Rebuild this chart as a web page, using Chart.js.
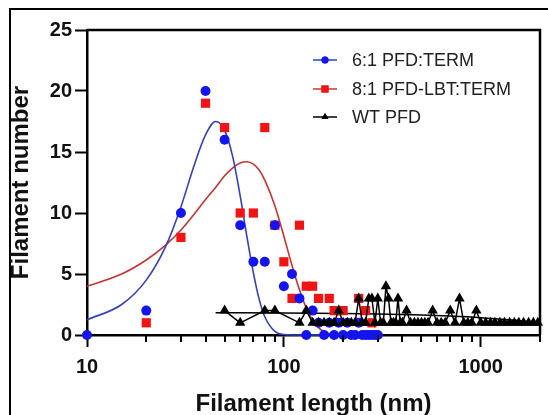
<!DOCTYPE html>
<html>
<head>
<meta charset="utf-8">
<style>
  html, body { margin: 0; padding: 0; background: #fff; }
  #wrap { width: 548px; height: 415px; position: relative; }
</style>
<script src="https://cdn.jsdelivr.net/npm/chart.js@4/dist/chart.umd.min.js"></script>
</head>
<body>
<div id="wrap"><canvas id="c" width="548" height="415"></canvas></div>
<script>
// Filament length histograms (10 nm bins) for the three samples
const blueLengths = [10,20,30,40,50,60,70,80,90,100,110,120,130,140,150,160,170,180,190,200,210,220,230,240,250,260,270,280,290,300];
const blueCounts  = [0,2,10,20,16,9,6,6,9,4,5,3,0,2,1,0,1,0,1,0,1,0,0,1,0,0,0,0,0,0];

const redLengths = [20,30,40,50,60,70,80,90,100,110,120,130,140,150,170,180,190,200,240,260,280];
const redCounts  = [1,8,19,17,10,10,17,9,6,3,9,4,4,3,3,2,2,2,3,2,1];

const wtLengths = [50,60,80,90,120,130,140,150,160,170,180,190,200,210,220,230,240,250,260,270,280,290,300,310,320,330,340,350,360,370,380,390,400,420,440,460,480,500,520,540,570,600,630,660,700,740,780,820,860,900,950,1000,1060,1120,1180,1250,1320,1400,1480,1560,1650,1750,1850,1950];
const wtCounts  = [2,1,2,2,1,2,1,1,1,1,1,2,1,1,1,1,3,1,1,3,3,1,3,1,1,4,3,1,1,1,3,1,1,2,1,1,1,1,1,1,2,1,1,1,2,1,3,1,1,1,2,1,1,1,1,1,1,1,1,1,1,1,1,1];

// Fitted distribution curves
const blueFitLengths = [10,15,20,25,30,35,40,45,50,55,60,65,70,75,80,90,100,120,150,200,300];
const blueFitCounts  = [1.25,2.5,4.5,7.2,10.5,13.9,16.4,17.5,16.8,14.6,11.4,8.0,5.1,2.9,1.5,0.3,0.04,0,0,0,0];
const redFitLengths = [10,15,20,25,30,35,40,45,50,55,60,65,70,75,80,90,100,110,120,130,140,150,160,180,200,300];
const redFitCounts  = [4.0,5.0,6.15,7.35,8.6,9.9,11.1,12.1,13.05,13.7,14.1,14.2,14.0,13.5,12.7,10.6,8.1,5.7,3.7,2.2,1.2,0.6,0.26,0.04,0,0];
const wtFitLengths = [45,100,200,300,500,700,1000,1500,2000];
const wtFitCounts  = [1.83,1.81,1.76,1.72,1.64,1.55,1.42,1.2,0.99];

// Axis ticks
const xTickValues = [10,20,30,40,50,60,70,80,90,100,200,300,400,500,600,700,800,900,1000,2000];
const xLabelled = [10,100,1000];
const yTickStep = 5;

const seriesNames = ['6:1 PFD:TERM', '8:1 PFD-LBT:TERM', 'WT PFD'];

const BLUE = '#1414ee', BLUE_FIT = '#3340c0';
const RED = '#f01414', RED_FIT = '#c83434';
const BLACK = '#000000';
const FONT = 'Arial, "Liberation Sans", sans-serif';

const pts = (xs, ys) => xs.map((x, i) => ({x: x, y: ys[i]}));

// Frame, plot box, minor x ticks and the inset legend
const decor = {
  id: 'decor',
  beforeDraw(chart) {
    const ctx = chart.ctx;
    ctx.save();
    ctx.fillStyle = '#fff';
    ctx.fillRect(0, 0, chart.width, chart.height);
    ctx.strokeStyle = '#000';
    ctx.lineWidth = 2;
    ctx.strokeRect(10, 9, chart.width + 20, chart.height + 20);
    ctx.restore();
  },
  afterDraw(chart) {
    const ctx = chart.ctx, a = chart.chartArea, xs = chart.scales.x;
    ctx.save();
    ctx.strokeStyle = '#000';
    ctx.lineWidth = 2.5;
    ctx.beginPath();
    ctx.moveTo(a.left, a.top);
    ctx.lineTo(a.right, a.top);
    ctx.lineTo(a.right, a.bottom);
    ctx.stroke();
    // shorter minor ticks
    ctx.lineWidth = 2;
    xTickValues.forEach(v => {
      if (xLabelled.includes(v)) return;
      const px = Math.round(xs.getPixelForValue(v));
      ctx.beginPath();
      ctx.moveTo(px, a.bottom);
      ctx.lineTo(px, a.bottom + 7);
      ctx.stroke();
    });
    // legend
    const ds = chart.data.datasets.filter(d => d.legendRow !== undefined);
    const lx0 = 313, lx1 = 337, tx = 352, rows = [60, 89, 117];
    ctx.font = '18px ' + FONT;
    ctx.textBaseline = 'middle';
    ds.forEach(d => {
      const y = rows[d.legendRow];
      ctx.strokeStyle = d.legendLine;
      ctx.lineWidth = 1.5;
      ctx.beginPath();
      ctx.moveTo(lx0, y);
      ctx.lineTo(lx1, y);
      ctx.stroke();
      ctx.fillStyle = d.pointBackgroundColor;
      Chart.helpers.drawPoint(ctx, {pointStyle: d.pointStyle, radius: d.legendRadius, borderWidth: 0}, (lx0 + lx1) / 2, y);
      ctx.fill();
      ctx.fillStyle = '#222';
      ctx.fillText(d.label, tx, y + 1);
    });
    ctx.restore();
  }
};

new Chart(document.getElementById('c'), {
  type: 'scatter',
  data: {
    datasets: [
      { label: seriesNames[2], data: pts(wtLengths, wtCounts), showLine: true, borderColor: BLACK, borderWidth: 1.5,
        pointStyle: 'triangle', pointRadius: 6, pointBackgroundColor: BLACK, pointBorderWidth: 0, order: 0,
        legendRow: 2, legendLine: BLACK, legendRadius: 4 },
      { label: seriesNames[0], data: pts(blueLengths, blueCounts), showLine: false,
        pointStyle: 'circle', pointRadius: 5, pointBackgroundColor: BLUE, pointBorderWidth: 0, order: 1,
        legendRow: 0, legendLine: BLUE_FIT, legendRadius: 3.5 },
      { label: seriesNames[1], data: pts(redLengths, redCounts), showLine: false,
        pointStyle: 'rect', pointRadius: 6.5, pointBackgroundColor: RED, pointBorderWidth: 0, order: 2,
        legendRow: 1, legendLine: RED_FIT, legendRadius: 5 },
      { data: pts(wtFitLengths, wtFitCounts), showLine: true, borderColor: BLACK, borderWidth: 1.5,
        pointRadius: 0, cubicInterpolationMode: 'monotone', order: 3 },
      { data: pts(blueFitLengths, blueFitCounts), showLine: true, borderColor: BLUE_FIT, borderWidth: 1.6,
        pointRadius: 0, cubicInterpolationMode: 'monotone', order: 4 },
      { data: pts(redFitLengths, redFitCounts), showLine: true, borderColor: RED_FIT, borderWidth: 1.6,
        pointRadius: 0, cubicInterpolationMode: 'monotone', order: 5 }
    ]
  },
  options: {
    responsive: false,
    animation: false,
    devicePixelRatio: 1,
    clip: false,
    layout: { padding: { left: 0, right: 5, top: 30, bottom: 0 } },
    plugins: { legend: { display: false }, tooltip: { enabled: false } },
    scales: {
      x: {
        type: 'logarithmic', min: 10, max: 2000,
        afterFit(s) { s.height = 80; },
        afterBuildTicks(s) { s.ticks = xTickValues.map(v => ({ value: v, major: xLabelled.includes(v) })); },
        border: { display: true, color: '#000', width: 2.5 },
        grid: { drawOnChartArea: false, drawTicks: true, tickLength: 12, tickWidth: 2,
                tickColor: c => (c.tick && xLabelled.includes(c.tick.value)) ? '#000' : 'rgba(0,0,0,0)' },
        ticks: { autoSkip: false, maxRotation: 0, padding: 8, color: '#111',
                 font: { family: FONT, size: 20, weight: 'bold' },
                 callback: v => xLabelled.includes(v) ? String(v) : '' },
        title: { display: true, text: 'Filament length (nm)', color: '#111',
                 font: { family: FONT, size: 24, weight: 'bold', lineHeight: 0.8 }, padding: { top: 0, bottom: 1 } }
      },
      y: {
        min: 0, max: 25,
        afterFit(s) { s.width = 87; },
        border: { display: true, color: '#000', width: 2.5 },
        grid: { drawOnChartArea: false, drawTicks: true, tickLength: 12, tickWidth: 2, tickColor: '#000' },
        ticks: { stepSize: yTickStep, padding: 3, color: '#111',
                 font: { family: FONT, size: 20, weight: 'bold' } },
        title: { display: true, text: 'Filament number', color: '#111',
                 font: { family: FONT, size: 24, weight: 'bold', lineHeight: 0.8 }, padding: { top: 12, bottom: 0 } }
      }
    }
  },
  plugins: [decor]
});
</script>
</body>
</html>
